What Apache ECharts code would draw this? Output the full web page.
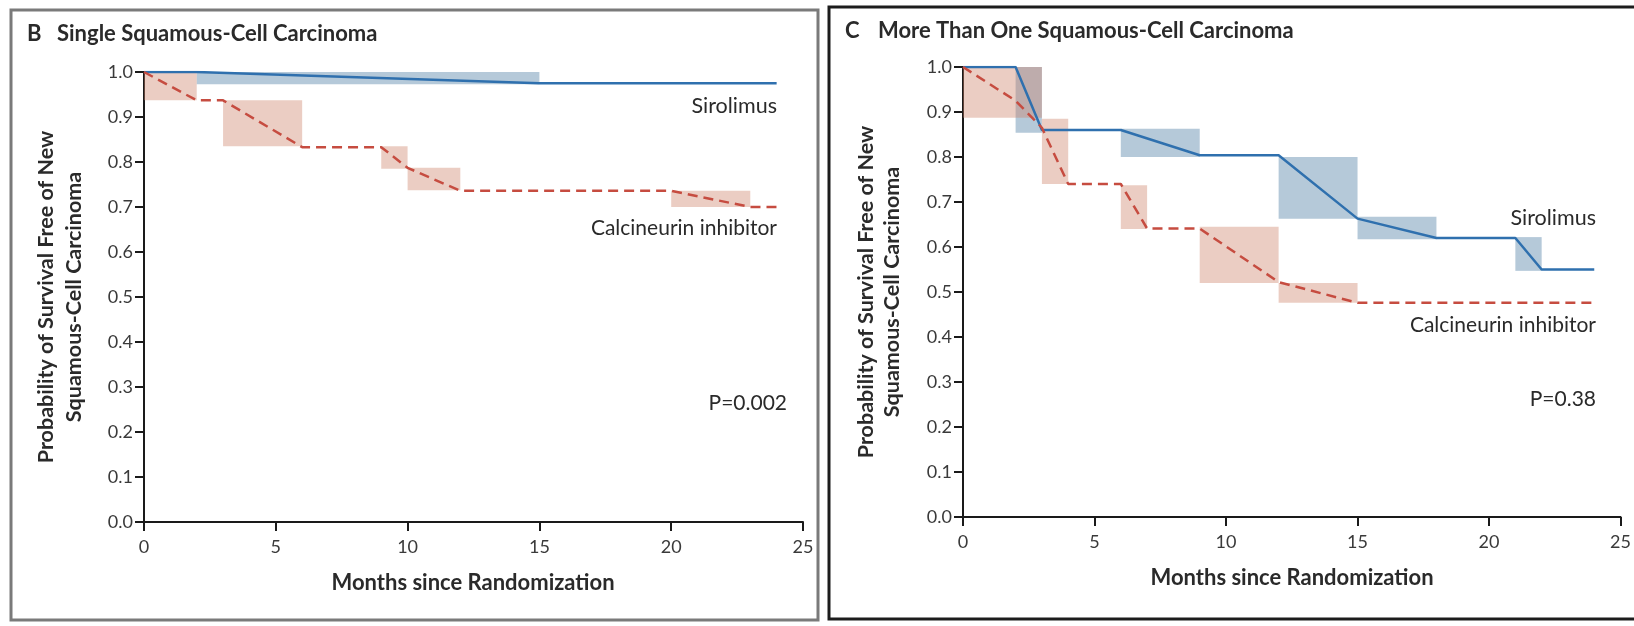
<!DOCTYPE html>
<html>
<head>
<meta charset="utf-8">
<title>Squamous-cell carcinoma free survival</title>
<script src="https://cdn.jsdelivr.net/npm/echarts@6/dist/echarts.min.js"></script>
<style>
  html, body { margin: 0; padding: 0; background: #fff; }
  #chart { width: 1634px; height: 626px; }
</style>
</head>
<body>
<div id="chart"></div>
<script>
// values: [month, probability]
var xTicks = [0, 5, 10, 15, 20, 25];

// panel B - single squamous-cell carcinoma
var singleSiro = [[0, 1], [2, 1], [15, 0.975], [24, 0.975]];
var singleCni = [[0, 1], [2, 0.937], [3, 0.937], [6, 0.833], [9, 0.833], [10, 0.787], [12, 0.736], [20, 0.736], [23, 0.70], [24, 0.70]];
// shaded boxes: [from month, to month, low, high]
var singleSiroBand = [[2, 15, 0.973, 1.0]];
var singleCniBand = [[0, 2, 0.937, 1.0], [3, 6, 0.835, 0.937], [9, 10, 0.785, 0.835], [10, 12, 0.737, 0.787], [20, 23, 0.70, 0.736]];

// panel C - more than one squamous-cell carcinoma
var multiSiro = [[0, 1], [2, 1], [3, 0.86], [6, 0.86], [9, 0.804], [12, 0.804], [15, 0.663], [18, 0.62], [21, 0.62], [22, 0.55], [24, 0.55]];
var multiCni = [[0, 1], [2, 0.925], [3, 0.865], [4, 0.74], [6, 0.74], [7, 0.641], [9, 0.641], [12, 0.522], [15, 0.476], [24, 0.476]];
var multiSiroBand = [[2, 3, 0.854, 1.0], [6, 9, 0.80, 0.863], [12, 15, 0.663, 0.80], [15, 18, 0.617, 0.667], [21, 22, 0.547, 0.622]];
var multiCniBand = [[0, 3, 0.887, 1.0], [3, 4, 0.74, 0.885], [6, 7, 0.64, 0.737], [9, 12, 0.52, 0.645], [12, 15, 0.476, 0.52]];

var chart = echarts.init(document.getElementById('chart'));

var FONT = 'Lato';
var BLUE = '#2f70ae';
var RED = '#c64c40';
var BLUE_BAND = 'rgba(90,135,170,0.45)';
var RED_BAND = 'rgba(205,130,105,0.4)';

function makeX(gi) {
  return {
    type: 'value', gridIndex: gi, min: 0, max: 25, interval: 5,
    axisLine: { lineStyle: { color: '#1a1a1a', width: 2 } },
    axisTick: { length: 9, lineStyle: { color: '#1a1a1a', width: 2 } },
    axisLabel: { color: '#3a3a3a', fontFamily: FONT, fontSize: 18, margin: 16,
      formatter: function (v) { return xTicks.indexOf(v) >= 0 ? String(v) : ''; } },
    splitLine: { show: false }
  };
}
function makeY(gi) {
  return {
    type: 'value', gridIndex: gi, min: 0, max: 1, interval: 0.1,
    axisLine: { show: true, lineStyle: { color: '#1a1a1a', width: 2 } },
    axisTick: { show: true, length: 9, lineStyle: { color: '#1a1a1a', width: 2 } },
    axisLabel: { color: '#3a3a3a', fontFamily: FONT, fontSize: 18, margin: 11,
      formatter: function (v) { return v.toFixed(1); } },
    splitLine: { show: false }
  };
}

function band(data, color, gi) {
  return {
    type: 'custom', xAxisIndex: gi, yAxisIndex: gi, data: data, z: 1,
    encode: { x: [0, 1], y: [2, 3] },
    renderItem: function (params, api) {
      var a = api.coord([api.value(0), api.value(3)]);
      var b = api.coord([api.value(1), api.value(2)]);
      return { type: 'rect', shape: { x: a[0], y: a[1], width: b[0] - a[0], height: b[1] - a[1] },
        style: { fill: color } };
    }
  };
}
function curve(data, color, dashed, gi) {
  return {
    type: 'line', xAxisIndex: gi, yAxisIndex: gi, data: data, z: 3,
    showSymbol: false, symbol: 'none',
    lineStyle: { color: color, width: 2.5, type: dashed ? [10, 6] : 'solid' }
  };
}

function txt(x, y, s, opt) {
  opt = opt || {};
  return {
    type: 'text', x: x, y: y, rotation: opt.rot || 0, z: 10,
    style: { text: s, fontFamily: FONT, fontSize: opt.size || 20, fontWeight: opt.bold ? 'bold' : 'normal',
      fill: opt.color || '#2a2a2a', align: opt.align || 'left', verticalAlign: 'middle' }
  };
}

var option = {
  animation: false,
  backgroundColor: '#fff',
  grid: [
    { left: 144, top: 72, width: 659, height: 450 },
    { left: 963, top: 67, width: 659, height: 450 }
  ],
  xAxis: [makeX(0), makeX(1)],
  yAxis: [makeY(0), makeY(1)],
  series: [
    band(singleSiroBand, BLUE_BAND, 0),
    band(singleCniBand, RED_BAND, 0),
    curve(singleSiro, BLUE, false, 0),
    curve(singleCni, RED, true, 0),
    band(multiSiroBand, BLUE_BAND, 1),
    band(multiCniBand, RED_BAND, 1),
    curve(multiSiro, BLUE, false, 1),
    curve(multiCni, RED, true, 1)
  ],
  graphic: [
    // panel frames
    { type: 'rect', shape: { x: 11, y: 10, width: 807, height: 610 }, style: { fill: null, stroke: '#7a7a7a', lineWidth: 3 } },
    { type: 'rect', shape: { x: 829, y: 7, width: 830, height: 612 }, style: { fill: null, stroke: '#1c1c1c', lineWidth: 3 } },
    // panel B texts
    txt(27, 34, 'B', { bold: true, size: 22 }),
    txt(57, 34, 'Single Squamous-Cell Carcinoma', { bold: true, size: 22 }),
    txt(46, 297, 'Probability of Survival Free of New', { bold: true, size: 21.5, rot: Math.PI / 2, align: 'center' }),
    txt(74, 297, 'Squamous-Cell Carcinoma', { bold: true, size: 21.5, rot: Math.PI / 2, align: 'center' }),
    txt(473, 583, 'Months since Randomization', { bold: true, size: 22, align: 'center' }),
    txt(777, 106, 'Sirolimus', { size: 21.5, align: 'right' }),
    txt(777, 228, 'Calcineurin inhibitor', { size: 21, align: 'right' }),
    txt(787, 403, 'P=0.002', { size: 21, align: 'right' }),
    // panel C texts
    txt(845, 31, 'C', { bold: true, size: 22 }),
    txt(878, 31, 'More Than One Squamous-Cell Carcinoma', { bold: true, size: 22 }),
    txt(866, 292, 'Probability of Survival Free of New', { bold: true, size: 21.5, rot: Math.PI / 2, align: 'center' }),
    txt(892, 292, 'Squamous-Cell Carcinoma', { bold: true, size: 21.5, rot: Math.PI / 2, align: 'center' }),
    txt(1292, 578, 'Months since Randomization', { bold: true, size: 22, align: 'center' }),
    txt(1596, 218, 'Sirolimus', { size: 21.5, align: 'right' }),
    txt(1596, 325, 'Calcineurin inhibitor', { size: 21, align: 'right' }),
    txt(1596, 399, 'P=0.38', { size: 21, align: 'right' })
  ]
};

chart.setOption(option);
</script>
</body>
</html>
